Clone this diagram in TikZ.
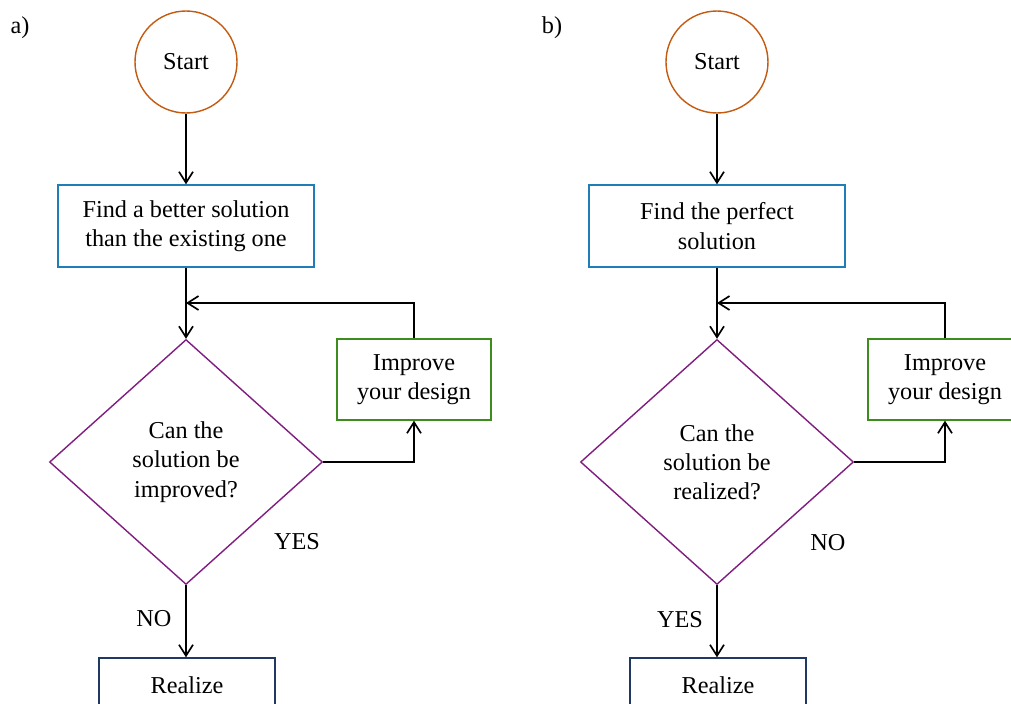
\documentclass[tikz,border=0pt]{standalone}
\usepackage{fontspec}
\setmainfont{Liberation Serif}
\usetikzlibrary{shapes.geometric, arrows.meta, positioning, calc}

\definecolor{startorange}{RGB}{197,90,17}
\definecolor{stepblue}{RGB}{31,125,184}
\definecolor{decpurple}{RGB}{128,30,128}
\definecolor{loopgreen}{RGB}{60,140,30}
\definecolor{endnavy}{RGB}{31,56,100}

\begin{document}
\begin{tikzpicture}[
    font=\fontsize{13.8}{16.6}\selectfont,
    startnode/.style={draw=startorange, circle, line width=0.8pt, minimum size=2.04cm, inner sep=0pt},
    stepbox/.style={draw=stepblue, line width=0.8pt, minimum width=5.12cm, minimum height=1.64cm, align=center},
    decision/.style={draw=decpurple, diamond, line width=0.8pt, minimum width=5.46cm, minimum height=4.9cm, inner sep=0pt, align=center},
    loopbox/.style={draw=loopgreen, line width=0.8pt, minimum width=3.08cm, minimum height=1.62cm, align=center},
    endbox/.style={draw=endnavy, line width=0.8pt, minimum width=3.52cm, minimum height=1.1cm},
    flow/.style={-{Straight Barb[length=2.2mm, width=2.8mm]}, line width=0.95pt}
]
    \useasboundingbox (0,0) rectangle (20.22,-14.08);
    \clip (0,0) rectangle (20.22,-14.08);

    % a) improve
    \node (laba) at (0.4,-0.56) {a)};
    \node[startnode] (starta) at (3.72,-1.24) {Start};
    \node[stepbox] (finda) at (3.72,-4.52) {Find a better solution\\than the existing one};
    \node[decision] (deca) at (3.72,-9.24) {Can the\\solution be\\improved?};
    \node[loopbox] (impa) at (8.28,-7.59) {Improve\\your design};
    \node[endbox] (reala) at (3.74,-13.71) {Realize};
    \coordinate (joina) at (3.72,-6.06);

    \draw[flow] (starta) -- (finda);
    \draw[flow] (finda) -- (deca);
    \draw[flow] (impa.north) |- (joina);
    \draw[flow] (deca.east) -| (impa.south);
    \draw[flow] (deca.south) -- (reala.north -| deca.south);

    \node (yesa) at (5.94,-10.84) {YES};
    \node (noa) at (3.08,-12.38) {NO};

    % b) perfect
    \node (labb) at (11.04,-0.56) {b)};
    \node[startnode] (startb) at (14.34,-1.24) {Start};
    \node[stepbox] (findb) at (14.34,-4.52) {Find the perfect\\solution};
    \node[decision] (decb) at (14.34,-9.24) {Can the\\solution be\\realized?};
    \node[loopbox] (impb) at (18.9,-7.59) {Improve\\your design};
    \node[endbox] (realb) at (14.36,-13.71) {Realize};
    \coordinate (joinb) at (14.34,-6.06);

    \draw[flow] (startb) -- (findb);
    \draw[flow] (findb) -- (decb);
    \draw[flow] (impb.north) |- (joinb);
    \draw[flow] (decb.east) -| (impb.south);
    \draw[flow] (decb.south) -- (realb.north -| decb.south);

    \node (nob) at (16.56,-10.86) {NO};
    \node (yesb) at (13.6,-12.4) {YES};
\end{tikzpicture}
\end{document}
